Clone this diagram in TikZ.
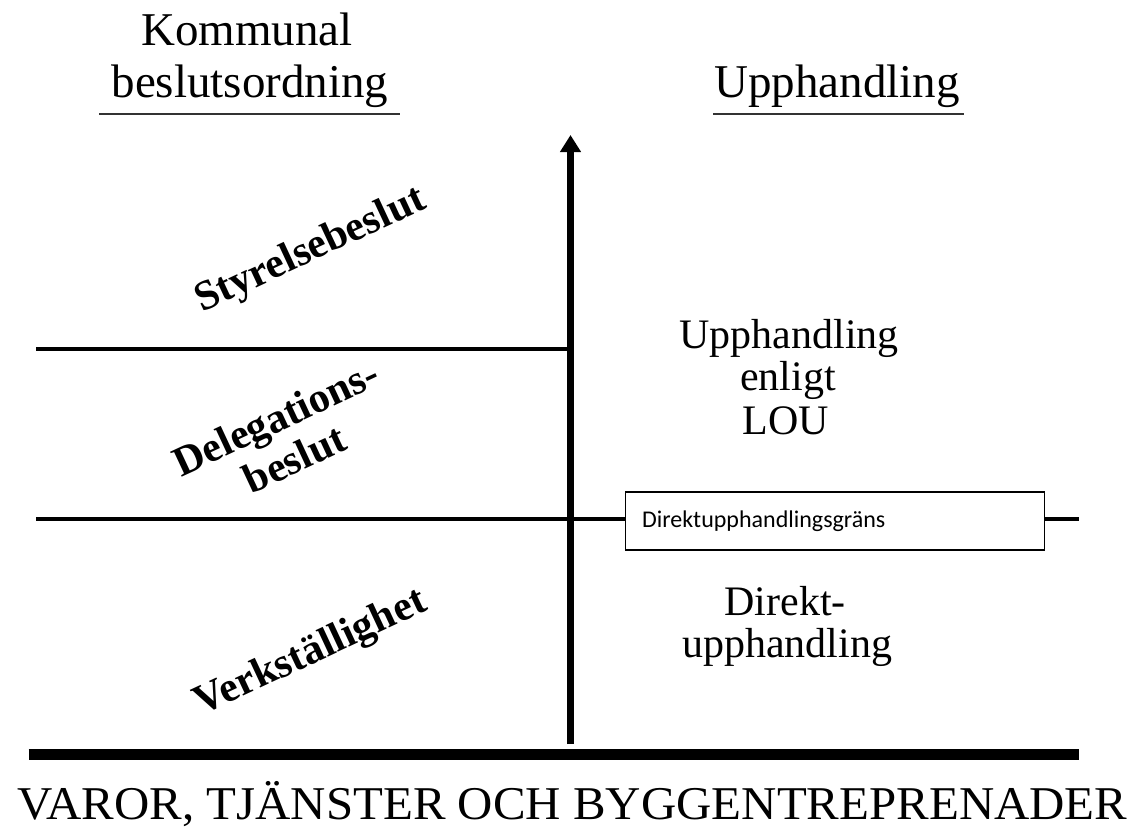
\documentclass[tikz,border=0pt]{standalone}
\usepackage{fontspec}
\setmainfont{Liberation Serif}
\newfontfamily\calibri{Carlito}
\usetikzlibrary{arrows.meta}
\begin{document}
\begin{tikzpicture}[x=1pt,y=-1pt,
  head/.style={font=\fontsize{47}{52}\selectfont, inner sep=0pt, anchor=base},
  rtext/.style={font=\fontsize{42}{44}\selectfont, inner sep=0pt, anchor=base},
  rotlabel/.style={font=\bfseries\fontsize{42}{45}\selectfont, inner sep=0pt, rotate=25, align=center},
  uline/.style={line width=2pt, black!80},
  thinline/.style={line width=3.5pt},
  boxstyle/.style={draw, line width=1.3pt, anchor=west, inner xsep=17pt, inner ysep=0pt,
     text width=385.5pt, align=left, minimum height=58pt, font=\calibri\fontsize{24}{28}\selectfont, fill=white}
]
\useasboundingbox[fill=white] (0,0) rectangle (1148,827);

% headings
\node[head] (k1) at (247,45) {Kommunal};
\node[head] (k2) at (250,97) {beslutsordning};
\coordinate (u1a) at (99,114); \coordinate (u1b) at (400,114);
\draw[uline] (u1a) -- (u1b);
\node[head] (up) at (837,97) {Upphandling};
\coordinate (u2a) at (713,114); \coordinate (u2b) at (964,114);
\draw[uline] (u2a) -- (u2b);

% horizontal lines
\coordinate (l1a) at (36,349); \coordinate (l1b) at (570.5,349);
\draw[thinline] (l1a) -- (l1b);
\node[boxstyle] (box) at (624.5,521) {Direktupphandlingsgräns};
\coordinate (l2a) at (36,519); \coordinate (l2b) at (1079,519);
\draw[thinline] (l2a) -- (l2a -| box.west);
\draw[thinline] (l2b -| box.east) -- (l2b);

% vertical axis
\coordinate (axB) at (570.5,744); \coordinate (axT) at (570.5,135);
\draw[line width=6.5pt, -{Triangle[width=20pt,length=17pt]}] (axB) -- (axT);

% bottom thick line
\coordinate (b1) at (28.5,754.5); \coordinate (b2) at (1079,754.5);
\draw[line width=11pt] (b1) -- (b2);

% left rotated labels
\node[rotlabel] (sty) at (311,251) {Styrelsebeslut};
\node[rotlabel] (del) at (285,438) {Delegations-\\beslut};
\node[rotlabel] (ver) at (311,654) {Verkställighet};

% right labels
\node[rtext] (r1) at (789,348) {Upphandling};
\node[rtext] (r2) at (788,390) {enligt};
\node[rtext] (r3) at (786,434) {LOU};
\node[rtext] (r4) at (785,615) {Direkt-};
\node[rtext] (r5) at (787,657) {upphandling};

% bottom text
\node[font=\fontsize{47}{52}\selectfont, inner sep=0pt, anchor=base, xscale=1.04] (bot) at (572.5,819) {VAROR, TJÄNSTER OCH BYGGENTREPRENADER};
\end{tikzpicture}
\end{document}
